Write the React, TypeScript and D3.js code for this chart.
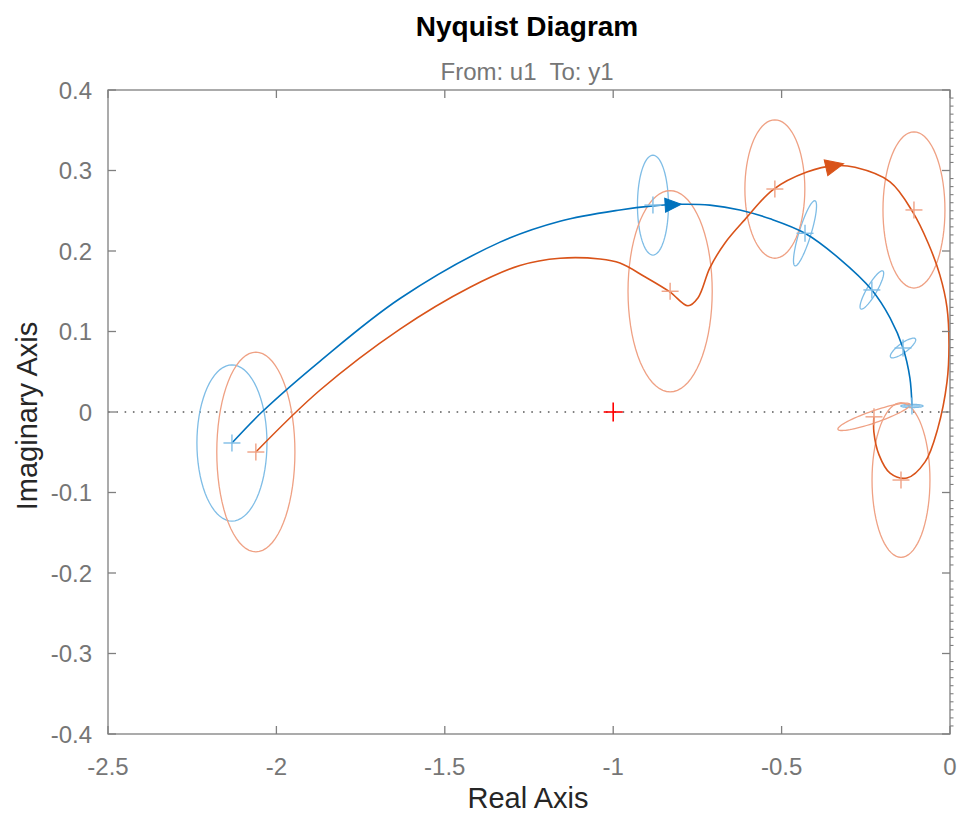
import React from 'react';
import * as d3 from 'd3';

const W = 959;
const H = 815;
const PLOT = { left: 108, right: 950, top: 90, bottom: 734 };

const xTicks = [-2.5, -2, -1.5, -1, -0.5, 0];
const xTickLabels = ['-2.5', '-2', '-1.5', '-1', '-0.5', '0'];
const yTicks = [-0.4, -0.3, -0.2, -0.1, 0, 0.1, 0.2, 0.3, 0.4];
const yTickLabels = ['-0.4', '-0.3', '-0.2', '-0.1', '0', '0.1', '0.2', '0.3', '0.4'];

// Nominal Nyquist curve (blue)
const blueRe = [-2.132, -2.043, -1.871, -1.633, -1.336, -1.158, -0.98, -0.882, -0.802, -0.713, -0.624, -0.534, -0.4305, -0.327, -0.232, -0.178, -0.1395, -0.119, -0.113];
const blueIm = [-0.0385, 0.0, 0.063, 0.141, 0.211, 0.237, 0.251, 0.256, 0.258, 0.257, 0.251, 0.24, 0.222, 0.19, 0.1516, 0.117, 0.0795, 0.042, 0.0075];

// Identified model curve (orange)
const orangeRe = [-2.061, -1.871, -1.633, -1.425, -1.277, -1.158, -1.039, -0.98, -0.906, -0.831, -0.778, -0.748, -0.713, -0.668, -0.609, -0.526, -0.425, -0.341, -0.282, -0.178, -0.11, -0.065, -0.03, -0.009, -0.003, -0.009, -0.036, -0.074, -0.128, -0.178, -0.211, -0.226, -0.226];
const orangeIm = [-0.0497, 0.027, 0.103, 0.155, 0.182, 0.191, 0.19, 0.185, 0.168, 0.149, 0.132, 0.142, 0.179, 0.21, 0.239, 0.276, 0.298, 0.306, 0.304, 0.286, 0.248, 0.21, 0.17, 0.13, 0.083, 0.037, -0.02, -0.062, -0.082, -0.076, -0.053, -0.025, -0.006];

// Uncertainty regions: centre, and two semi-axis vectors [re, im]
const blueEllRe = [-2.132, -0.882, -0.4305, -0.232, -0.1395, -0.113];
const blueEllIm = [-0.0385, 0.257, 0.222, 0.1516, 0.0795, 0.0075];
const blueEllA = [[0.104, 0], [0.046, 0], [0.0297, 0.0404], [0.0327, 0.0236], [0.0371, 0.0112], [0.033, 0]];
const blueEllB = [[0, 0.097], [0, 0.062], [0.017, -0.0022], [0.0128, -0.0031], [0.0069, -0.005], [0, 0.002]];

const orangeEllRe = [-2.061, -0.831, -0.52, -0.107, -0.1455, -0.2257];
const orangeEllIm = [-0.0497, 0.15, 0.277, 0.251, -0.0845, -0.006];
const orangeEllA = [[0.116, 0], [0.125, 0], [0.089, 0], [0.092, 0], [0.086, 0], [0.107, 0.0155]];
const orangeEllB = [[0, 0.124], [0, 0.125], [0, 0.086], [0, 0.097], [0, 0.096], [0.0058, -0.007]];

// Arrow positions (real part along each curve)
const blueArrowRe = -0.825;
const orangeArrowRe = -0.345;

const BLUE = '#0072BD';
const ORANGE = '#D95319';
const BLUE_LIGHT = '#7FBDE6';
const ORANGE_LIGHT = '#EFA184';
const AXIS_GRAY = '#7f7f7f';
const TICK_TEXT = '#767676';
const FONT = '"Liberation Sans", Arial, Helvetica, sans-serif';

const x = d3.scaleLinear().domain([-2.5, 0]).range([PLOT.left, PLOT.right]);
const y = d3.scaleLinear().domain([-0.4, 0.4]).range([PLOT.bottom, PLOT.top]);

const curveLine = d3
  .line<[number, number]>()
  .x((d) => x(d[0]))
  .y((d) => y(d[1]))
  .curve(d3.curveCatmullRom.alpha(0.5));

const polyLine = d3
  .line<[number, number]>()
  .x((d) => x(d[0]))
  .y((d) => y(d[1]));

function zipPts(re: number[], im: number[]): [number, number][] {
  return re.map((r, i) => [r, im[i]] as [number, number]);
}

function ellipsePath(cr: number, ci: number, a: number[], b: number[]) {
  const pts: [number, number][] = d3.range(0, 73).map((k) => {
    const t = (k / 72) * Math.PI * 2;
    return [cr + a[0] * Math.cos(t) + b[0] * Math.sin(t), ci + a[1] * Math.cos(t) + b[1] * Math.sin(t)];
  });
  return polyLine(pts) + 'Z';
}

function arrowAt(re: number[], im: number[], atRe: number) {
  let i = 0;
  for (let k = 0; k < re.length - 1; k++) {
    if ((re[k] - atRe) * (re[k + 1] - atRe) <= 0) {
      i = k;
      break;
    }
  }
  const t = (atRe - re[i]) / (re[i + 1] - re[i]);
  const pi = im[i] + t * (im[i + 1] - im[i]);
  const px = x(atRe);
  const py = y(pi);
  const dx = x(re[i + 1]) - x(re[i]);
  const dy = y(im[i + 1]) - y(im[i]);
  const ang = (Math.atan2(dy, dx) * 180) / Math.PI;
  return { px, py, ang };
}

function Plus({ cx, cy, size, color, width }: { cx: number; cy: number; size: number; color: string; width: number }) {
  const h = size / 2;
  return (
    <g stroke={color} strokeWidth={width}>
      <line x1={cx - h} y1={cy} x2={cx + h} y2={cy} />
      <line x1={cx} y1={cy - h} x2={cx} y2={cy + h} />
    </g>
  );
}

export default function App() {
  const bluePts = zipPts(blueRe, blueIm);
  const orangePts = zipPts(orangeRe, orangeIm);
  const bArrow = arrowAt(blueRe, blueIm, blueArrowRe);
  const oArrow = arrowAt(orangeRe, orangeIm, orangeArrowRe);
  const minorY = d3.range(-40, 41).map((k) => k / 100).filter((v) => Math.abs(Math.round(v * 10) - v * 10) > 1e-6);

  return (
    <svg
      width={W}
      height={H}
      style={{ position: 'absolute', left: 0, top: 0, background: '#fff' }}
      fontFamily={FONT}
    >
      <rect x={0} y={0} width={W} height={H} fill="#fff" />

      {/* zero line */}
      <line
        x1={x(-2.5)}
        x2={x(0)}
        y1={y(0)}
        y2={y(0)}
        stroke="#5a5a5a"
        strokeWidth={1.5}
        strokeDasharray="1.6 6.7"
      />

      {/* uncertainty ellipses */}
      {blueEllRe.map((r, i) => (
        <path key={'be' + i} d={ellipsePath(r, blueEllIm[i], blueEllA[i], blueEllB[i])} fill="none" stroke={BLUE_LIGHT} strokeWidth={1.3} />
      ))}
      {orangeEllRe.map((r, i) => (
        <path key={'oe' + i} d={ellipsePath(r, orangeEllIm[i], orangeEllA[i], orangeEllB[i])} fill="none" stroke={ORANGE_LIGHT} strokeWidth={1.3} />
      ))}

      {/* curves */}
      <path d={curveLine(bluePts) || ''} fill="none" stroke={BLUE} strokeWidth={1.6} />
      <path d={curveLine(orangePts) || ''} fill="none" stroke={ORANGE} strokeWidth={1.6} />

      {/* markers */}
      {blueEllRe.map((r, i) => (
        <Plus key={'bm' + i} cx={x(r)} cy={y(blueEllIm[i])} size={17} color={BLUE_LIGHT} width={1.4} />
      ))}
      {orangeEllRe.map((r, i) => (
        <Plus key={'om' + i} cx={x(r)} cy={y(orangeEllIm[i])} size={17} color={ORANGE_LIGHT} width={1.4} />
      ))}

      {/* arrows */}
      <path
        d="M9,0 L-7,-7 L-7,7 Z"
        fill={BLUE}
        stroke={BLUE}
        strokeWidth={1}
        transform={`translate(${bArrow.px},${bArrow.py}) rotate(${bArrow.ang})`}
      />
      <path
        d="M10,0 L-8,-8 L-8,8 Z"
        fill={ORANGE}
        stroke={ORANGE}
        strokeWidth={1}
        transform={`translate(${oArrow.px},${oArrow.py}) rotate(${oArrow.ang})`}
      />

      {/* critical point */}
      <Plus cx={x(-1)} cy={y(0)} size={19} color="#FF0000" width={1.6} />

      {/* axes box */}
      <rect
        x={PLOT.left}
        y={PLOT.top}
        width={PLOT.right - PLOT.left}
        height={PLOT.bottom - PLOT.top}
        fill="none"
        stroke={AXIS_GRAY}
        strokeWidth={1.3}
      />

      {/* x ticks */}
      {xTicks.map((t, i) => (
        <g key={'xt' + i}>
          <line x1={x(t)} x2={x(t)} y1={PLOT.bottom} y2={PLOT.bottom - 8} stroke={AXIS_GRAY} strokeWidth={1.3} />
          <line x1={x(t)} x2={x(t)} y1={PLOT.top} y2={PLOT.top + 8} stroke={AXIS_GRAY} strokeWidth={1.3} />
          <text x={x(t)} y={775} textAnchor="middle" fontSize={24} fill={TICK_TEXT}>
            {xTickLabels[i]}
          </text>
        </g>
      ))}

      {/* y ticks */}
      {yTicks.map((t, i) => (
        <g key={'yt' + i}>
          <line x1={PLOT.left} x2={PLOT.left + 8} y1={y(t)} y2={y(t)} stroke={AXIS_GRAY} strokeWidth={1.3} />
          <line x1={PLOT.right} x2={PLOT.right - 8} y1={y(t)} y2={y(t)} stroke={AXIS_GRAY} strokeWidth={1.3} />
          <text x={92} y={y(t)} dy="0.36em" textAnchor="end" fontSize={24} fill={TICK_TEXT}>
            {yTickLabels[i]}
          </text>
        </g>
      ))}
      {minorY.map((t, i) => (
        <line key={'my' + i} x1={PLOT.right} x2={PLOT.right + 3.5} y1={y(t)} y2={y(t)} stroke={AXIS_GRAY} strokeWidth={1.1} />
      ))}

      {/* titles */}
      <text x={527} y={36} textAnchor="middle" fontSize={28} fontWeight="bold" fill="#000">
        Nyquist Diagram
      </text>
      <text x={527} y={80} textAnchor="middle" fontSize={24} fill={TICK_TEXT} xmlSpace="preserve" style={{ whiteSpace: 'pre' }}>
        {'From: u1  To: y1'}
      </text>
      <text x={528} y={808} textAnchor="middle" fontSize={29} fill="#262626">
        Real Axis
      </text>
      <text transform="translate(37,416) rotate(-90)" textAnchor="middle" fontSize={29} fill="#262626">
        Imaginary Axis
      </text>
    </svg>
  );
}
